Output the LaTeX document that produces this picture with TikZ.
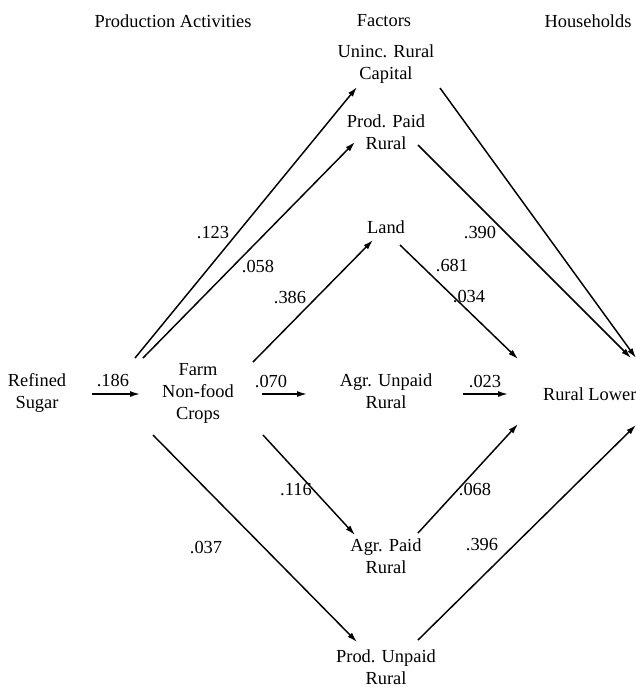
\documentclass[tikz,border=0pt]{standalone}
\usepackage{fontspec}
\setmainfont{Liberation Serif}
\usetikzlibrary{arrows.meta}
\begin{document}
\begin{tikzpicture}[x={(0.75pt,0)}, y={(0,-0.75pt)},
  every node/.style={inner sep=0pt, outer sep=0pt, font=\fontsize{13.8}{16.5}\selectfont},
  txt/.style={align=center},
  val/.style={},
  arr/.style={line width=1.1pt, -{Latex[length=7.5pt, width=4.5pt]}}]
\useasboundingbox (0,0) rectangle (636,687);
\fill[white] (0,0) rectangle (636,687);

% column headings
\node (hprod) at (173,21) {Production Activities};
\node (hfac)  at (384,21) {Factors};
\node (hhh)   at (588,21) {Households};

% activities
\node[txt] (sugar) at (37,393) {Refined\\Sugar};
\node[txt] (farm)  at (198,393) {Farm\\Non-food\\Crops};

% factors
\node[txt] (uninc) at (386,64)  {Uninc. Rural\\Capital};
\node[txt] (ppaid) at (386,132) {Prod. Paid\\Rural};
\node[txt] (land)  at (386,227) {Land};
\node[txt] (aunp)  at (386,391) {Agr. Unpaid\\Rural};
\node[txt] (apaid) at (386,556) {Agr. Paid\\Rural};
\node[txt] (punp)  at (386,667) {Prod. Unpaid\\Rural};

% household
\node[anchor=west] (rlow) at (543,394) {Rural Lower};

% arrow end points
\coordinate (s1a) at (92,394);   \coordinate (s1b) at (140,394);
\coordinate (f1a) at (135,358);  \coordinate (f1b) at (357,87);
\coordinate (f2a) at (143,358);  \coordinate (f2b) at (355,142);
\coordinate (f3a) at (253,362);  \coordinate (f3b) at (373,240);
\coordinate (f4a) at (262,394);  \coordinate (f4b) at (307,394);
\coordinate (f5a) at (263,435);  \coordinate (f5b) at (355,535);
\coordinate (f6a) at (153,435);  \coordinate (f6b) at (357,642);
\coordinate (r1a) at (440,88);   \coordinate (r1b) at (636,358);
\coordinate (r2a) at (418,145);  \coordinate (r2b) at (631,358);
\coordinate (r3a) at (400,245);  \coordinate (r3b) at (518,359);
\coordinate (r4a) at (463,394);  \coordinate (r4b) at (508,394);
\coordinate (r5a) at (418,533);  \coordinate (r5b) at (518,424);
\coordinate (r6a) at (418,640);  \coordinate (r6b) at (636,425);

% activity to activity
\draw[arr] (s1a) -- (s1b);
\node[val] (v186) at (113,381) {.186};

% activities to factors
\draw[arr] (f1a) -- (f1b);
\draw[arr] (f2a) -- (f2b);
\draw[arr] (f3a) -- (f3b);
\draw[arr] (f4a) -- (f4b);
\draw[arr] (f5a) -- (f5b);
\draw[arr] (f6a) -- (f6b);
\node[val] (v123) at (213,233) {.123};
\node[val] (v058) at (258,267) {.058};
\node[val] (v386) at (290,298) {.386};
\node[val] (v070) at (271,382) {.070};
\node[val] (v116) at (296,490) {.116};
\node[val] (v037) at (206,548) {.037};

% factors to household
\draw[arr] (r1a) -- (r1b);
\draw[arr] (r2a) -- (r2b);
\draw[arr] (r3a) -- (r3b);
\draw[arr] (r4a) -- (r4b);
\draw[arr] (r5a) -- (r5b);
\draw[arr] (r6a) -- (r6b);
\node[val] (v390) at (480,233) {.390};
\node[val] (v681) at (452,266) {.681};
\node[val] (v034) at (469,297) {.034};
\node[val] (v023) at (485,382) {.023};
\node[val] (v068) at (475,490) {.068};
\node[val] (v396) at (482,545) {.396};
\end{tikzpicture}
\end{document}
